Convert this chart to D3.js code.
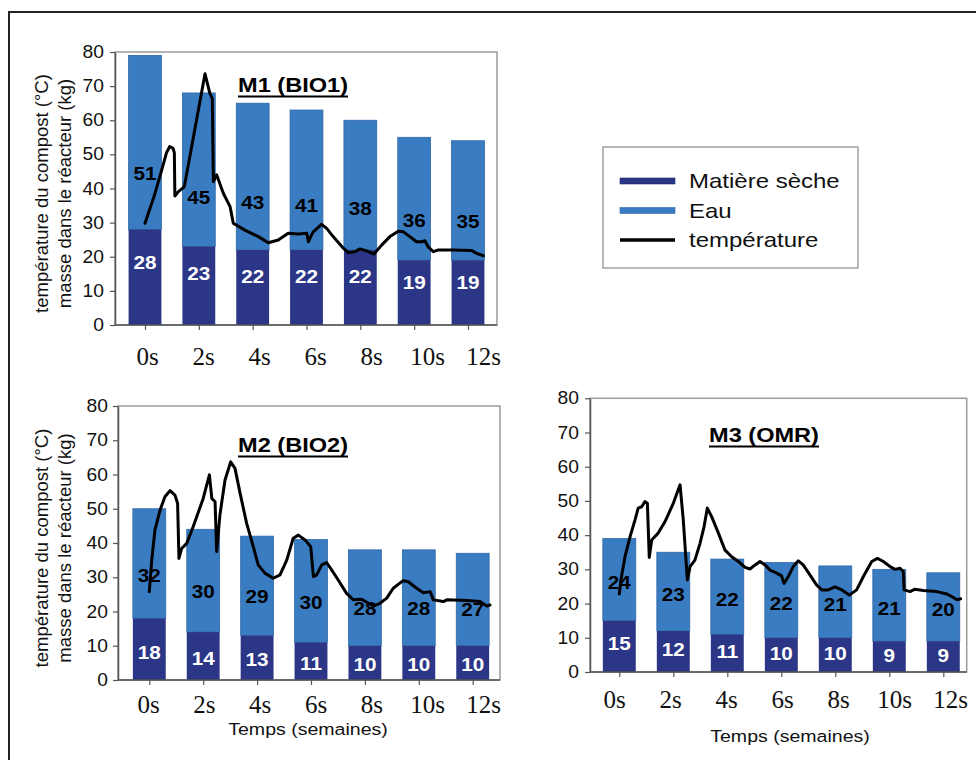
<!DOCTYPE html>
<html>
<head>
<meta charset="utf-8">
<script src="https://cdn.jsdelivr.net/npm/d3@7"></script>
<style>
  body { margin: 0; background: #fff; }
  svg { display: block; }
</style>
</head>
<body>
<svg id="fig" width="976" height="760"></svg>
<script>
// Sampling weeks (bar categories) and value-axis ticks
const weeks = ["0s", "2s", "4s", "6s", "8s", "10s", "12s"];
const yTicks = [0, 10, 20, 30, 40, 50, 60, 70, 80];

// Reactor mass (kg): dry matter and water, per week
const m1Dry   = [28, 23, 22, 22, 22, 19, 19];
const m1Water = [51, 45, 43, 41, 38, 36, 35];
const m2Dry   = [18, 14, 13, 11, 10, 10, 10];
const m2Water = [32, 30, 29, 30, 28, 28, 27];
const m3Dry   = [15, 12, 11, 10, 10, 9, 9];
const m3Water = [24, 23, 22, 22, 21, 21, 20];

// Compost temperature (°C) readings: [time in weeks, temperature]
const m1Temp = [[0,29.8],[0.35,38],[0.62,45.4],[0.8,50.5],[0.92,52.3],[1.04,51.8],[1.09,50.5],[1.11,37.8],[1.24,39.1],[1.46,40.5],[2.23,73.6],[2.41,67.9],[2.5,66.4],[2.54,42],[2.66,44],[2.91,38.6],[3.16,34.7],[3.28,29.8],[3.71,27.8],[4.21,25.9],[4.58,24.1],[4.95,24.9],[5.32,26.9],[5.69,26.7],[6.01,26.9],[6.07,24.4],[6.19,26.4],[6.25,27.3],[6.56,29.5],[6.75,28.3],[6.99,25.9],[7.37,22.5],[7.55,21.2],[7.8,21.5],[7.99,22.3],[8.24,21.7],[8.51,20.8],[8.79,23.4],[9.1,25.9],[9.41,27.5],[9.6,27.3],[9.84,25.9],[10.09,24.4],[10.28,24.4],[10.4,24.7],[10.52,22.9],[10.71,21.5],[10.9,22],[11.45,22],[12.14,21.8],[12.32,21],[12.57,20.3]];
const m2Temp = [[0,25.8],[0.09,35],[0.21,43.8],[0.4,49.6],[0.58,53.5],[0.77,55.3],[0.95,54],[1.05,51.6],[1.1,35.5],[1.2,38.4],[1.39,39.9],[1.63,44.8],[2,53],[2.23,59.9],[2.32,53],[2.44,52.1],[2.5,37.5],[2.62,48.2],[2.81,58.4],[3.02,63.7],[3.18,61.8],[3.37,54.5],[3.61,45.8],[3.86,38.9],[4.04,33.6],[4.29,31.2],[4.6,29.7],[4.85,30.7],[5.1,35],[5.34,41.4],[5.53,42.3],[5.78,40.9],[5.99,38.9],[6.09,30.2],[6.21,30.7],[6.4,33.6],[6.58,34.3],[6.77,32.1],[7.01,29.2],[7.32,25.3],[7.57,23.4],[7.88,23.6],[8.31,21.6],[8.56,22.4],[8.81,23.9],[9.05,26.8],[9.42,29],[9.61,28.7],[9.92,26.8],[10.17,25.5],[10.42,25.8],[10.54,23.4],[10.91,22.9],[11.04,23.4],[11.78,23.2],[12.27,22.9],[12.52,21.6],[12.64,21.9]];
const m3Temp = [[0,22.8],[0.06,26.9],[0.21,33.7],[0.4,39.6],[0.58,44.4],[0.7,47.9],[0.83,48.3],[0.95,49.8],[1.04,49.3],[1.11,33.5],[1.2,38.6],[1.44,40.6],[1.69,43.9],[2,49.3],[2.25,54.7],[2.37,44.4],[2.52,26.9],[2.62,30.8],[2.8,32.7],[2.99,37.6],[3.14,42.5],[3.26,47.9],[3.42,45.4],[3.67,40.6],[3.91,35.7],[4.16,33.7],[4.41,32.3],[4.66,30.6],[4.84,30.1],[5.03,31.3],[5.21,32.3],[5.4,31.3],[5.58,29.8],[5.83,28.9],[6.01,28.1],[6.1,25.9],[6.26,27.9],[6.44,30.8],[6.63,32.5],[6.81,31.3],[7.06,28.4],[7.31,25.4],[7.5,24],[7.74,24],[7.99,24.9],[8.24,24],[8.52,22.5],[8.79,24],[9.04,27.9],[9.35,32.3],[9.56,33.2],[9.78,32.3],[10.03,30.8],[10.21,30],[10.4,30.3],[10.52,29.3],[10.55,24],[10.77,23.5],[10.95,24.2],[11.26,23.8],[11.76,23.5],[12.13,22.8],[12.37,21.8],[12.51,21.1],[12.64,21.4]];

const legendLabels = ["Matière sèche", "Eau", "température"];

const COLORS = { dry: "#2b3686", water: "#3a7cc1", waterEdge: "#2f68a8", temp: "#000" };
const SANS = "'Liberation Sans', Arial, Helvetica, sans-serif";
const SERIF = "'Liberation Serif', 'Times New Roman', serif";

const panels = [
  { title: "M1 (BIO1)", dry: m1Dry, water: m1Water, temp: m1Temp,
    left: 115, right: 497, top: 52, bottom: 325, first: 145, last: 468,
    labFirst: 147, labLast: 483, labBase: 365, tickRight: 104,
    titleX: 293, titleY: 92, yTitleX: 42, xTitle: null,
    dryFrac: 0.65, waterFrac: 0.32 },
  { title: "M2 (BIO2)", dry: m2Dry, water: m2Water, temp: m2Temp,
    left: 118, right: 500, top: 406, bottom: 680, first: 149.3, last: 472.7,
    labFirst: 148, labLast: 483, labBase: 713, tickRight: 108,
    titleX: 293, titleY: 452, yTitleX: 42, xTitle: { x: 308, y: 735 },
    dryFrac: 0.45, waterFrac: 0.39 },
  { title: "M3 (OMR)", dry: m3Dry, water: m3Water, temp: m3Temp,
    left: 590, right: 966.7, top: 398.3, bottom: 672, first: 619.3, last: 943.3,
    labFirst: 614, labLast: 950, labBase: 708, tickRight: 579,
    titleX: 764, titleY: 442, yTitleX: null, xTitle: { x: 790, y: 742 },
    dryFrac: 0.55, waterFrac: 0.46 }
];

const svg = d3.select("#fig");

// outer figure frame
svg.append("rect")
  .attr("x", 9).attr("y", 12).attr("width", 1000).attr("height", 800)
  .attr("fill", "none").attr("stroke", "#222").attr("stroke-width", 2);

// horizontally widened sans text, as in the printed figure
function wideText(g, x, y, str, o = {}) {
  const sx = o.sx || 1.15;
  return g.append("text")
    .attr("transform", `translate(${x},${y}) scale(${sx},1)`)
    .attr("text-anchor", o.anchor || "middle")
    .attr("font-family", SANS)
    .attr("font-size", o.size || 18)
    .attr("font-weight", o.weight || "normal")
    .attr("fill", o.fill || "#000")
    .text(str);
}

panels.forEach(p => {
  const g = svg.append("g");
  const y = d3.scaleLinear().domain([0, 80]).range([p.bottom, p.top]);
  const x = d3.scalePoint().domain(weeks).range([p.first, p.last]);
  const xLab = d3.scalePoint().domain(weeks).range([p.labFirst, p.labLast]);
  const xTime = d3.scaleLinear().domain([0, 12]).range([p.first, p.last]);
  const bw = x.step() * 0.61;

  // plot frame
  g.append("rect")
    .attr("x", p.left).attr("y", p.top)
    .attr("width", p.right - p.left).attr("height", p.bottom - p.top)
    .attr("fill", "none").attr("stroke", "#9a9a9a").attr("stroke-width", 1.5);

  const rows = weeks.map((w, i) => ({ w, dry: p.dry[i], water: p.water[i] }));

  // stacked bars
  g.selectAll(".water").data(rows).join("rect")
    .attr("x", d => x(d.w) - bw / 2)
    .attr("y", d => y(d.dry + d.water))
    .attr("width", bw)
    .attr("height", d => y(d.dry) - y(d.dry + d.water))
    .attr("fill", COLORS.water)
    .attr("stroke", COLORS.waterEdge).attr("stroke-width", 0.8);
  g.selectAll(".dry").data(rows).join("rect")
    .attr("x", d => x(d.w) - bw / 2)
    .attr("y", d => y(d.dry))
    .attr("width", bw)
    .attr("height", d => y(0) - y(d.dry))
    .attr("fill", COLORS.dry);

  // y axis
  const yAxis = g.append("g")
    .attr("transform", `translate(${p.left},0)`)
    .call(d3.axisLeft(y).tickValues(yTicks).tickSize(5).tickSizeOuter(0));
  yAxis.select(".domain").attr("stroke", "#555").attr("stroke-width", 1.5);
  yAxis.selectAll(".tick line").attr("stroke", "#555").attr("stroke-width", 1.2);
  yAxis.selectAll(".tick text")
    .attr("x", -(p.left - p.tickRight) / 1.1)
    .attr("transform", "scale(1.1,1)")
    .attr("font-family", SANS).attr("font-size", 17.5).attr("fill", "#111");

  // x axis ticks
  const xAxis = g.append("g")
    .attr("transform", `translate(0,${p.bottom})`)
    .call(d3.axisBottom(x).tickSize(5).tickSizeOuter(0).tickFormat(""));
  xAxis.select(".domain")
    .attr("d", `M${p.left},0H${p.right}`)
    .attr("stroke", "#555").attr("stroke-width", 1.5);
  xAxis.selectAll(".tick line").attr("stroke", "#555").attr("stroke-width", 1.2);

  // x tick labels (serif)
  const xLabAxis = g.append("g")
    .attr("transform", `translate(0,${p.labBase})`)
    .call(d3.axisBottom(xLab).tickSize(0).tickPadding(0));
  xLabAxis.select(".domain").remove();
  xLabAxis.selectAll(".tick text")
    .attr("y", 0).attr("dy", 0)
    .attr("font-family", SERIF).attr("font-size", 25).attr("fill", "#111");

  // value labels inside the bars
  rows.forEach(d => {
    wideText(g, x(d.w), y(d.dry * p.dryFrac) + 6.5, d.dry,
      { size: 18, weight: "bold", fill: "#fff" });
    wideText(g, x(d.w), y(d.dry + d.water * p.waterFrac) + 6.5, d.water,
      { size: 18, weight: "bold", fill: "#000" });
  });

  // temperature curve
  g.append("path")
    .datum(p.temp)
    .attr("d", d3.line().x(d => xTime(d[0])).y(d => y(d[1])))
    .attr("fill", "none").attr("stroke", COLORS.temp)
    .attr("stroke-width", 3).attr("stroke-linejoin", "round").attr("stroke-linecap", "round");

  // underlined panel title
  const t = wideText(g, p.titleX, p.titleY, p.title, { size: 20.5, weight: "bold" });
  const tw = t.node().getComputedTextLength() * 1.15;
  g.append("line")
    .attr("x1", p.titleX - tw / 2).attr("x2", p.titleX + tw / 2)
    .attr("y1", p.titleY + 4.5).attr("y2", p.titleY + 4.5)
    .attr("stroke", "#000").attr("stroke-width", 2);

  // axis titles
  if (p.yTitleX !== null) {
    const cy = (p.top + p.bottom) / 2 + 5;
    ["température du compost (°C)", "masse dans le réacteur (kg)"].forEach((s, i) => {
      g.append("text")
        .attr("transform", `translate(${p.yTitleX + i * 23 + 6},${cy}) rotate(-90)`)
        .attr("text-anchor", "middle")
        .attr("font-family", SANS).attr("font-size", 18.5).attr("fill", "#111")
        .text(s);
    });
  }
  if (p.xTitle) {
    wideText(g, p.xTitle.x, p.xTitle.y, "Temps (semaines)", { size: 17, fill: "#111" });
  }
});

// legend
const lg = svg.append("g");
lg.append("rect")
  .attr("x", 603).attr("y", 147).attr("width", 255).attr("height", 121)
  .attr("fill", "#fff").attr("stroke", "#8a8a8a").attr("stroke-width", 1.2);
const legendY = d3.scalePoint().domain(legendLabels).range([181, 240]);
legendLabels.forEach((lab, i) => {
  const cy = legendY(lab);
  if (i < 2) {
    lg.append("rect")
      .attr("x", 620).attr("y", cy - 3).attr("width", 55).attr("height", 6)
      .attr("fill", i === 0 ? COLORS.dry : COLORS.water)
      .attr("stroke", i === 0 ? "#1f2766" : COLORS.waterEdge).attr("stroke-width", 0.6);
  } else {
    lg.append("line")
      .attr("x1", 620).attr("x2", 675).attr("y1", cy).attr("y2", cy)
      .attr("stroke", COLORS.temp).attr("stroke-width", 3.5);
  }
  wideText(lg, 689, cy + 7, lab, { size: 20, anchor: "start", sx: 1.2, fill: "#111" });
});
</script>
</body>
</html>
